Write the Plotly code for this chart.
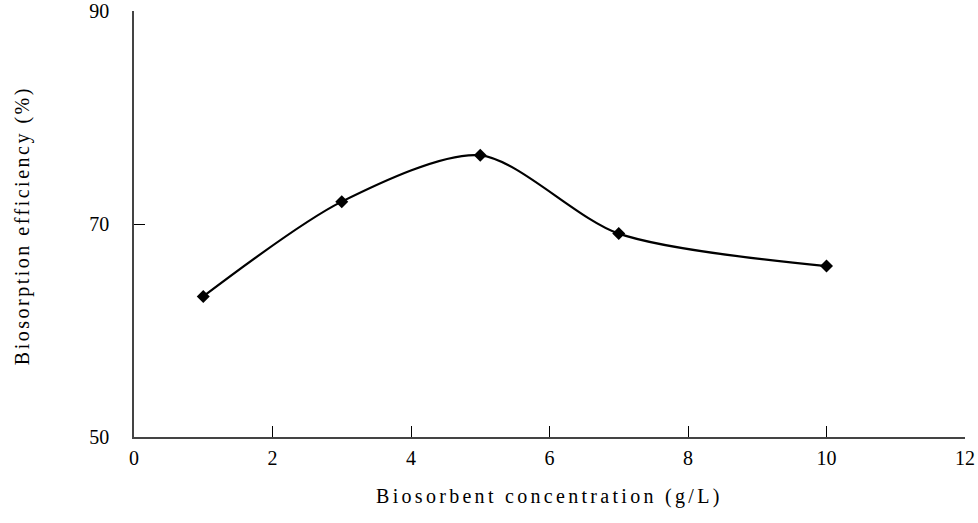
import plotly.graph_objects as go

concentration = [1, 3, 5, 7, 10]
efficiency = [63.2, 72.1, 76.45, 69.1, 66.05]

x_ticks = [0, 2, 4, 6, 8, 10, 12]
y_ticks = [50, 70, 90]

x_title = "Biosorbent concentration (g/L)"
y_title = "Biosorption efficiency (%)"

font_family = "Liberation Serif, Times New Roman, serif"

fig = go.Figure()
fig.add_trace(go.Scatter(
    x=concentration, y=efficiency,
    mode="lines+markers",
    line=dict(color="black", width=2.2, shape="spline", smoothing=0.8),
    marker=dict(symbol="diamond", size=10, color="black"),
    showlegend=False,
))

fig.update_layout(
    width=978, height=523,
    margin=dict(l=134, r=13, t=11, b=86),
    paper_bgcolor="white", plot_bgcolor="white",
    font=dict(family=font_family, size=20, color="black"),
    annotations=[
        dict(text='<span style="letter-spacing:3.3px">' + x_title + '</span>',
             xref="paper", yref="paper", x=0.5, y=-0.14, xanchor="center", yanchor="middle",
             showarrow=False, font=dict(size=20)),
        dict(text='<span style="letter-spacing:2.5px">' + y_title + '</span>', textangle=-90,
             xref="paper", yref="paper", x=0, y=0.495, xanchor="center", yanchor="middle",
             xshift=-112, showarrow=False, font=dict(size=20)),
    ],
)
fig.update_xaxes(
    range=[0, 12], tickvals=x_ticks, ticks="inside", ticklen=11, tickcolor="black",
    showline=True, linecolor="#444444", linewidth=1.5, showgrid=False, zeroline=False,
    automargin=False, ticklabelstandoff=2, tickfont=dict(size=20),
)
fig.update_yaxes(
    range=[50, 90], tickvals=y_ticks, ticks="inside", ticklen=11, tickcolor="black",
    showline=True, linecolor="#444444", linewidth=1.5, showgrid=False, zeroline=False,
    automargin=False, ticklabelstandoff=19, tickfont=dict(size=20),
)

fig.write_html("out.html")
